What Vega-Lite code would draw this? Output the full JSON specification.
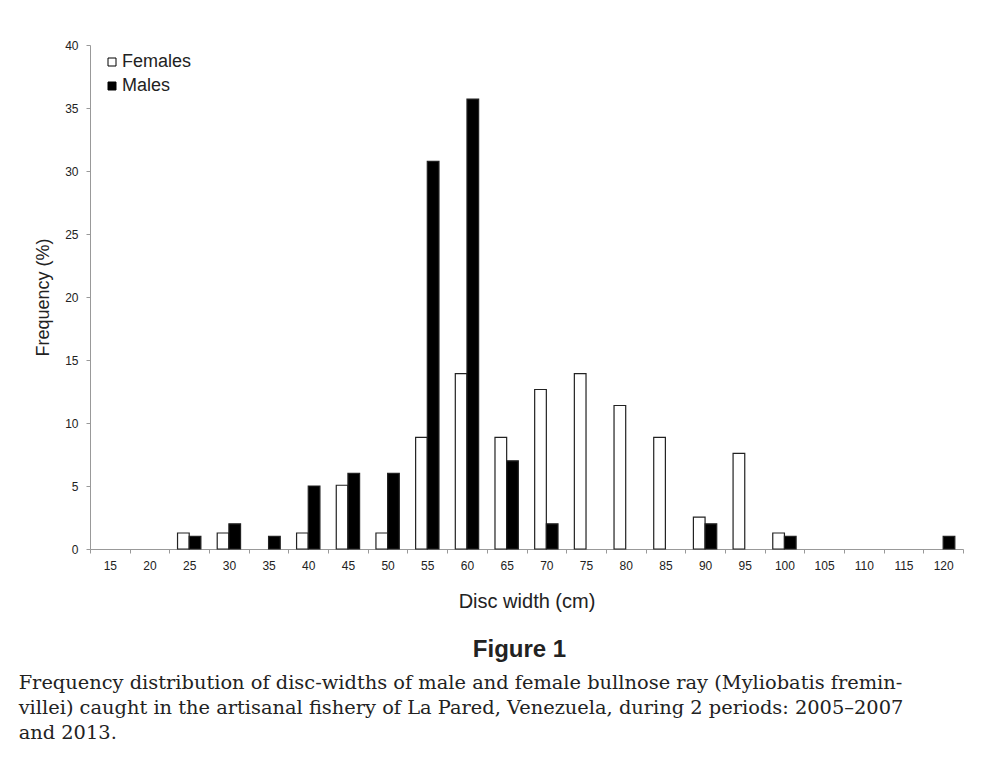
{
  "$schema": "https://vega.github.io/schema/vega-lite/v6.json",
  "background": "white",
  "padding": {"left": 18, "top": 39, "right": 21, "bottom": 10},
  "config": {"view": {"stroke": null}, "font": "Liberation Sans"},
  "title": {
    "text": [
      "Frequency distribution of disc-widths of male and female bullnose ray (Myliobatis fremin-",
      "villei) caught in the artisanal fishery of La Pared, Venezuela, during 2 periods: 2005–2007",
      "and 2013."
    ],
    "orient": "bottom",
    "anchor": "start",
    "frame": "bounds",
    "font": "DejaVu Serif",
    "fontSize": 19.4,
    "fontWeight": "normal",
    "color": "#222",
    "lineHeight": 25,
    "offset": 12,
    "dx": -16
  },
  "vconcat": [
    {
      "width": 873,
      "height": 504,
      "title": {
        "text": "Figure 1",
        "orient": "bottom",
        "anchor": "middle",
        "frame": "group",
        "font": "Liberation Sans",
        "fontSize": 24,
        "fontWeight": "bold",
        "color": "#222",
        "offset": 27,
        "dx": -7
      },
      "data": {
        "values": [
          {"width": 25, "sex": "Females", "freq": 1.27},
          {"width": 30, "sex": "Females", "freq": 1.27},
          {"width": 40, "sex": "Females", "freq": 1.27},
          {"width": 45, "sex": "Females", "freq": 5.06},
          {"width": 50, "sex": "Females", "freq": 1.27},
          {"width": 55, "sex": "Females", "freq": 8.86},
          {"width": 60, "sex": "Females", "freq": 13.92},
          {"width": 65, "sex": "Females", "freq": 8.86},
          {"width": 70, "sex": "Females", "freq": 12.66},
          {"width": 75, "sex": "Females", "freq": 13.92},
          {"width": 80, "sex": "Females", "freq": 11.39},
          {"width": 85, "sex": "Females", "freq": 8.86},
          {"width": 90, "sex": "Females", "freq": 2.53},
          {"width": 95, "sex": "Females", "freq": 7.59},
          {"width": 100, "sex": "Females", "freq": 1.27},
          {"width": 25, "sex": "Males", "freq": 1},
          {"width": 30, "sex": "Males", "freq": 2},
          {"width": 35, "sex": "Males", "freq": 1},
          {"width": 40, "sex": "Males", "freq": 5},
          {"width": 45, "sex": "Males", "freq": 6},
          {"width": 50, "sex": "Males", "freq": 6},
          {"width": 55, "sex": "Males", "freq": 30.77},
          {"width": 60, "sex": "Males", "freq": 35.71},
          {"width": 65, "sex": "Males", "freq": 7},
          {"width": 70, "sex": "Males", "freq": 2},
          {"width": 90, "sex": "Males", "freq": 2},
          {"width": 100, "sex": "Males", "freq": 1},
          {"width": 120, "sex": "Males", "freq": 1}
        ]
      },
      "mark": {"type": "bar", "stroke": "#222", "strokeWidth": 1.2},
      "encoding": {
        "x": {
          "field": "width",
          "type": "ordinal",
          "scale": {
            "domain": [15, 20, 25, 30, 35, 40, 45, 50, 55, 60, 65, 70, 75, 80, 85, 90, 95, 100, 105, 110, 115, 120],
            "paddingInner": 0,
            "paddingOuter": 0
          },
          "axis": {
            "title": "Disc width (cm)",
            "labelAngle": 0,
            "tickBand": "extent",
            "domainColor": "#999",
            "tickColor": "#999",
            "tickSize": 4,
            "labelFontSize": 12,
            "labelColor": "#222",
            "labelPadding": 7,
            "titleFontSize": 20,
            "titleFontWeight": "normal",
            "titleColor": "#222",
            "titlePadding": 20
          }
        },
        "xOffset": {
          "field": "sex",
          "type": "nominal",
          "scale": {"domain": ["Females", "Males"], "paddingInner": 0, "paddingOuter": 0.7}
        },
        "y": {
          "field": "freq",
          "type": "quantitative",
          "scale": {"domain": [0, 40]},
          "axis": {
            "title": "Frequency (%)",
            "values": [0, 5, 10, 15, 20, 25, 30, 35, 40],
            "grid": false,
            "domainColor": "#999",
            "tickColor": "#999",
            "tickSize": 4,
            "labelFontSize": 12,
            "labelColor": "#222",
            "labelPadding": 8,
            "titleFontSize": 18,
            "titleFontWeight": "normal",
            "titleColor": "#222",
            "titlePadding": 12
          }
        },
        "fill": {
          "field": "sex",
          "type": "nominal",
          "scale": {"domain": ["Females", "Males"], "range": ["white", "black"]},
          "legend": {
            "title": null,
            "orient": "none",
            "legendX": 13,
            "legendY": 8,
            "symbolType": "square",
            "symbolSize": 64,
            "symbolStrokeColor": "#000",
            "symbolStrokeWidth": 1,
            "labelFontSize": 18,
            "labelColor": "#222",
            "rowPadding": 6,
            "labelOffset": 1
          }
        }
      }
    }
  ]
}
